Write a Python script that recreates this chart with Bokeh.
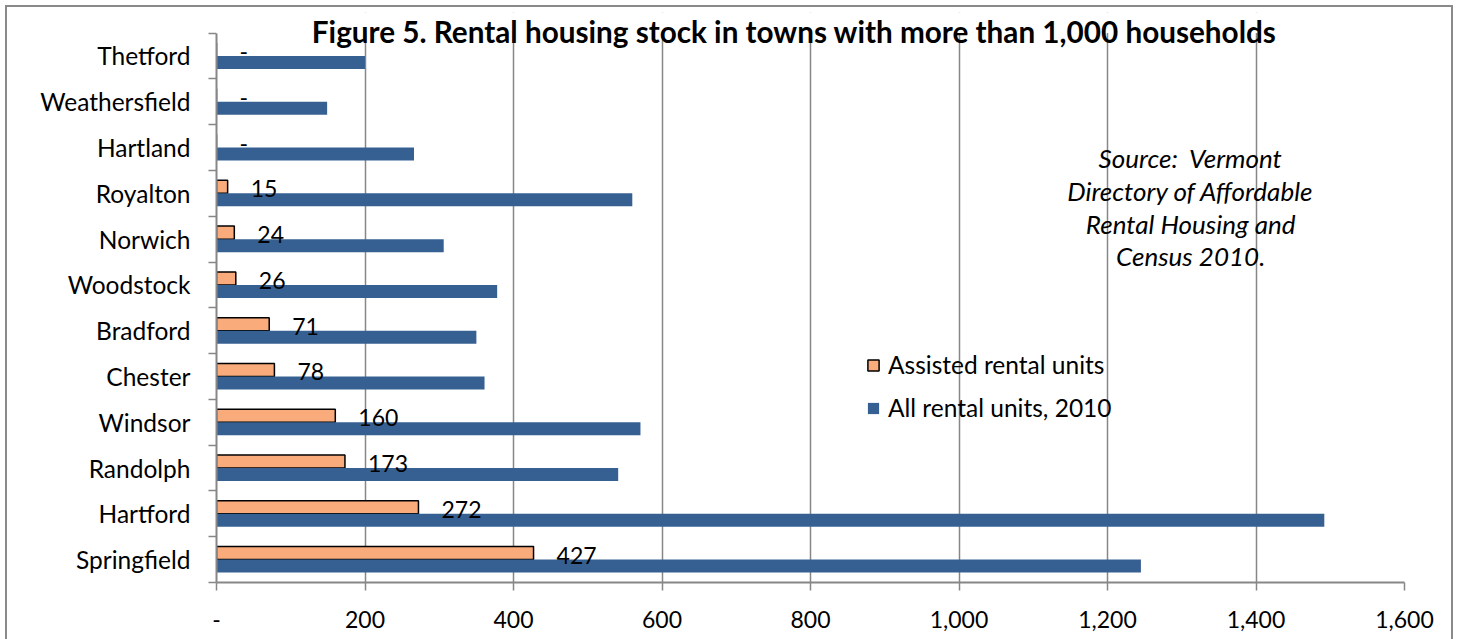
from bokeh.plotting import figure
from bokeh.models import (Range1d, LinearAxis, FixedTicker, BoxAnnotation, InlineStyleSheet,
                          Label, Legend, LegendItem, ColumnDataSource, NumeralTickFormatter)
from bokeh.transform import dodge
from bokeh.core.properties import value
from bokeh.embed import file_html
from bokeh.resources import INLINE

# ---- data (bottom to top) ----
towns = ["Springfield", "Hartford", "Randolph", "Windsor", "Chester", "Bradford",
         "Woodstock", "Norwich", "Royalton", "Hartland", "Weathersfield", "Thetford"]
assisted = [427, 272, 173, 160, 78, 71, 26, 24, 15, 0, 0, 0]
all_units = [1245, 1492, 541, 571, 361, 350, 378, 306, 560, 266, 149, 200]
x_ticks = [0, 200, 400, 600, 800, 1000, 1200, 1400, 1600]
title_text = "Figure 5. Rental housing stock in towns with more than 1,000 households"
note_lines = ["Source:\u00a0 Vermont", "Directory of Affordable", "Rental Housing and", "Census 2010."]
series_names = ["Assisted rental units", "All rental units, 2010"]

FONT = "Lato"
GRID = "#878787"
ORANGE = "#F9AB7B"
BLUE = "#376092"
FS_TXT = "24.5px"
FS_NUM = "23px"

n = len(towns)
centers = [i + 0.5 for i in range(n)]
src = ColumnDataSource(dict(yc=centers, town=towns, assisted=assisted, total=all_units,
                            lbl=[str(v) if v else "-" for v in assisted]))

p = figure(width=1460, height=639,
           y_range=Range1d(0, 12.45),
           x_range=Range1d(0, 1600),
           output_backend="svg", toolbar_location=None,
           y_axis_location=None,
           min_border_left=216, min_border_right=56,
           min_border_top=12, min_border_bottom=57)
p.outline_line_color = None
p.background_fill_color = "white"

# outer chart frame (its bottom edge lies below the visible page)
p.stylesheets = [InlineStyleSheet(css="""
:host::after {
  content: "";
  position: absolute;
  left: 5px; top: 5px; width: 1448px; height: 700px;
  border: 2px solid #8a8a8a;
  box-sizing: border-box;
  pointer-events: none;
  z-index: 10;
}
""")]

# x axis
p.xaxis.ticker = FixedTicker(ticks=x_ticks)
p.xaxis.formatter = NumeralTickFormatter(format="0,0")
p.xaxis.major_label_overrides = {0: "-"}
p.xaxis.minor_tick_line_color = None
p.xaxis.major_tick_out = 8
p.xaxis.major_tick_in = 0
p.xaxis.major_tick_line_color = GRID
p.xaxis.major_tick_line_width = 1.5
p.xaxis.axis_line_color = GRID
p.xaxis.axis_line_width = 2
p.xaxis.major_label_text_font = FONT
p.xaxis.major_label_text_font_size = FS_NUM
p.xaxis.major_label_text_color = "black"
p.xaxis.major_label_standoff = 20

p.xgrid.grid_line_color = GRID
p.xgrid.grid_line_width = 1.5
p.ygrid.visible = False

# keep the grid out of the title strip above the last category
p.add_layout(BoxAnnotation(bottom=n, fill_color="white", fill_alpha=1.0,
                           line_alpha=0))

# left axes: boundary ticks (inner) and category labels (outer)
tick_axis = LinearAxis(ticker=FixedTicker(ticks=list(range(n + 1))), bounds=(0, n),
                       major_label_overrides={i: "" for i in range(n + 1)},
                       major_label_text_font_size="0px", major_label_standoff=0,
                       major_tick_out=8, major_tick_in=0,
                       major_tick_line_color=GRID, major_tick_line_width=1.5,
                       minor_tick_line_color=None,
                       axis_line_color=GRID, axis_line_width=2)
p.add_layout(tick_axis, "left")
cat_axis = LinearAxis(ticker=FixedTicker(ticks=centers), bounds=(0, n),
                      major_label_overrides={c: t for c, t in zip(centers, towns)},
                      major_tick_line_color=None, minor_tick_line_color=None,
                      axis_line_color=None,
                      major_label_text_font=FONT, major_label_text_font_size=FS_TXT,
                      major_label_text_color="black", major_label_standoff=12)
p.add_layout(cat_axis, "left")

# bars
r_ass = p.hbar(y=dodge("yc", 0.142), right="assisted", left=0,
               height=0.284, fill_color=ORANGE, line_color="black", line_width=1.5,
               source=src)
r_all = p.hbar(y=dodge("yc", -0.142), right="total", left=0,
               height=0.284, fill_color=BLUE, line_color=None, source=src)

# data labels
p.text(x="assisted", y=dodge("yc", 0.142), text="lbl",
       x_offset=23, y_offset=2, text_baseline="middle", text_align="left",
       text_font=value(FONT), text_font_size=FS_NUM, text_color="black", source=src)

# legend
legend = Legend(items=[LegendItem(label=series_names[0], renderers=[r_ass]),
                       LegendItem(label=series_names[1], renderers=[r_all])],
                location=(650, 160), border_line_color=None, background_fill_alpha=0,
                padding=0, margin=0, spacing=14, glyph_height=14, glyph_width=14,
                label_height=25, label_standoff=8,
                label_text_font=FONT, label_text_font_size=FS_TXT, label_text_color="black")
p.add_layout(legend)

# title
p.add_layout(Label(x=778, y=12.04, text=title_text, text_align="center",
                   text_baseline="middle", text_font=FONT, text_font_style="bold",
                   text_font_size="29.7px", text_color="black"))

# source note
for i, line in enumerate(note_lines):
    p.add_layout(Label(x=1312, y=9.27 - i * 0.715, text=line, text_align="center",
                       text_baseline="middle", text_font=FONT, text_font_style="italic",
                       text_font_size="26px", text_color="black"))

open("out.html", "w").write(file_html(p, INLINE))
